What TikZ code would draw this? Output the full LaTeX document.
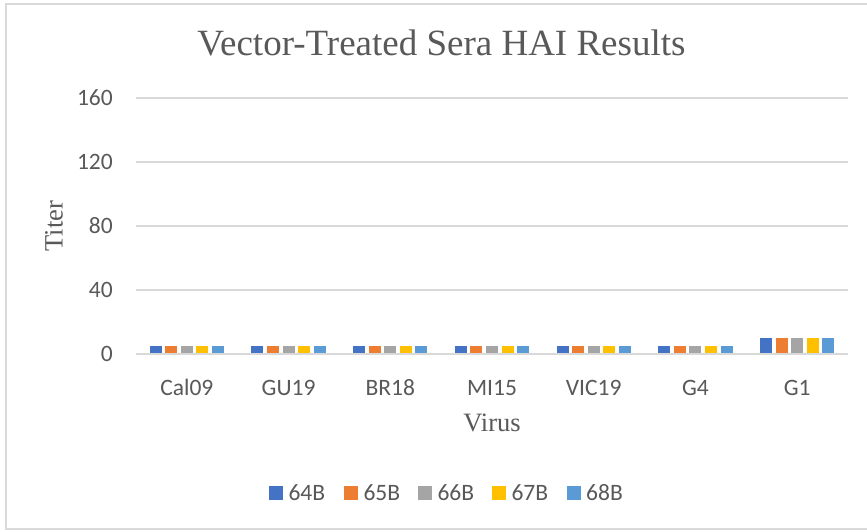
\documentclass[tikz,border=0pt]{standalone}
\usepackage{fontspec}
\setmainfont{Liberation Serif}
\newfontfamily\calib{Carlito}
\definecolor{txtgray}{HTML}{595959}
\definecolor{gridgray}{HTML}{D9D9D9}
\definecolor{sA}{HTML}{4472C4}
\definecolor{sB}{HTML}{ED7D31}
\definecolor{sC}{HTML}{A5A5A5}
\definecolor{sD}{HTML}{FFC000}
\definecolor{sE}{HTML}{5B9BD5}
\tikzset{
  gridline/.style={draw=gridgray, line width=1.3pt},
  ticklbl/.style={anchor=east, inner sep=0pt, text=txtgray, font=\calib\fontsize{23.5}{23.5}\selectfont},
  catlbl/.style={anchor=base, inner sep=0pt, text=txtgray, font=\calib\fontsize{23.5}{23.5}\selectfont},
  leglbl/.style={anchor=base west, inner sep=0pt, text=txtgray, font=\calib\fontsize{23.5}{23.5}\selectfont},
  axtitle/.style={inner sep=0pt, text=txtgray, font=\fontsize{26.5}{26.5}\selectfont},
  bar/.style={draw=none}
}
\begin{document}
\begin{tikzpicture}[x=1pt,y=-1pt]
\useasboundingbox (0,0) rectangle (867,531);
\fill[white] (0,0) rectangle (867,531);
\draw[gridgray, line width=1.4pt] (6,4) rectangle (875,529);
% title
\node[anchor=base, inner sep=0pt, text=txtgray, font=\fontsize{37}{37}\selectfont] (title) at (441.5,55) {Vector-Treated Sera HAI Results};
% gridlines and tick labels
\foreach \v in {0,40,80,120,160}{
  \draw[gridline] (136,{354-\v*1.6}) -- (848,{354-\v*1.6});
  \node[ticklbl] (t\v) at (113,{354-\v*1.6}) {\v};
}
% bars
\foreach \name/\val [count=\i from 0] in {Cal09/5,GU19/5,BR18/5,MI15/5,VIC19/5,G4/5,G1/10}{
  \pgfmathsetmacro{\c}{136+(\i+0.5)*101.714}
  \foreach \col [count=\j from 0] in {sA,sB,sC,sD,sE}{
    \fill[\col] ({\c-37.2+\j*15.6},354) rectangle ({\c-37.2+\j*15.6+12},{354-\val*1.6});
  }
  \node[catlbl] (cat\i) at (\c,395) {\name};
}
\draw[gridline] (136,354) -- (848,354);
% axis titles
\node[axtitle, anchor=base] (xtitle) at (492,431.5) {Virus};
\node[axtitle, rotate=90] (ytitle) at (54,226) {Titer};
% legend
\foreach \x/\col/\lab in {269.3/sA/64B,344.3/sB/65B,418.3/sC/66B,492.3/sD/67B,567/sE/68B}{
  \fill[\col] (\x,486.3) rectangle (\x+13.7,500);
  \node[leglbl] (leg\lab) at (\x+19,500.5) {\lab};
}
\end{tikzpicture}
\end{document}
